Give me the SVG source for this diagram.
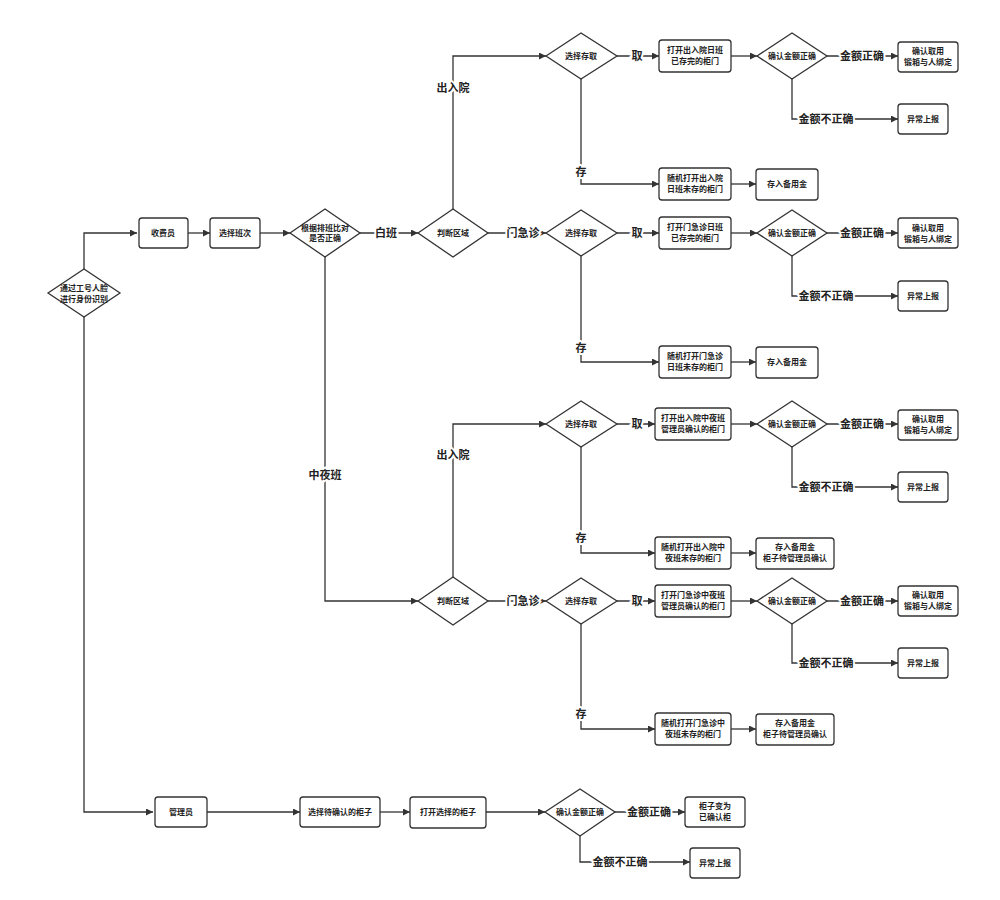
<svg xmlns="http://www.w3.org/2000/svg" width="1000" height="900" viewBox="0 0 1000 900">
<style>
.n rect{fill:#fff;stroke:#333;stroke-width:1.3}
.n polygon{fill:#fff;stroke:#333;stroke-width:1.3}
.n text{font-family:"Noto Sans CJK SC","Noto Sans",sans-serif;font-size:8px;fill:#222;text-anchor:middle;font-weight:bold}
.c path{fill:none;stroke:#333;stroke-width:1.3}
.l{font-family:"Noto Sans CJK SC","Noto Sans",sans-serif;font-size:11px;font-weight:bold;fill:#222;text-anchor:middle;stroke:#fff;stroke-width:4;paint-order:stroke}
</style>
<defs><marker id="a" viewBox="0 0 10 10" refX="10" refY="5" markerWidth="9" markerHeight="7" orient="auto" markerUnits="userSpaceOnUse"><path d="M0,0L10,5L0,10z" fill="#333"/></marker></defs>
<rect width="1000" height="900" fill="#fff"/>
<g class="c">
<path d="M84,270V233H137" marker-end="url(#a)"/>
<path d="M188,233H210" marker-end="url(#a)"/>
<path d="M260,233H290" marker-end="url(#a)"/>
<path d="M360,233H418" marker-end="url(#a)"/>
<path d="M453,209V56H546" marker-end="url(#a)"/>
<path d="M488,233H546" marker-end="url(#a)"/>
<path d="M325,257V601H418" marker-end="url(#a)"/>
<path d="M453,577V424H546" marker-end="url(#a)"/>
<path d="M488,601H546" marker-end="url(#a)"/>
<path d="M84,317V812H153" marker-end="url(#a)"/>
<path d="M207,812H300" marker-end="url(#a)"/>
<path d="M380,812H410" marker-end="url(#a)"/>
<path d="M486,812H545" marker-end="url(#a)"/>
<path d="M615,812H685" marker-end="url(#a)"/>
<path d="M580,836V862H690" marker-end="url(#a)"/>
<!-- rows -->
<path d="M617,56H659" marker-end="url(#a)"/><path d="M731,56H757" marker-end="url(#a)"/><path d="M827,56H898" marker-end="url(#a)"/><path d="M792,79V119H898" marker-end="url(#a)"/><path d="M581,79V184H659" marker-end="url(#a)"/><path d="M731,184H756" marker-end="url(#a)"/>
<path d="M617,233H659" marker-end="url(#a)"/><path d="M731,233H757" marker-end="url(#a)"/><path d="M827,233H898" marker-end="url(#a)"/><path d="M792,256V296H898" marker-end="url(#a)"/><path d="M581,256V362H659" marker-end="url(#a)"/><path d="M731,362H756" marker-end="url(#a)"/>
<path d="M617,424H655" marker-end="url(#a)"/><path d="M731,424H757" marker-end="url(#a)"/><path d="M827,424H898" marker-end="url(#a)"/><path d="M792,447V487H898" marker-end="url(#a)"/><path d="M581,447V553H655" marker-end="url(#a)"/><path d="M731,553H756" marker-end="url(#a)"/>
<path d="M617,601H655" marker-end="url(#a)"/><path d="M731,601H757" marker-end="url(#a)"/><path d="M827,601H898" marker-end="url(#a)"/><path d="M792,624V663H898" marker-end="url(#a)"/><path d="M581,624V729H655" marker-end="url(#a)"/><path d="M731,729H756" marker-end="url(#a)"/>
</g>
<g>
<text class="l" x="386" y="237">白班</text>
<text class="l" x="453" y="92">出入院</text>
<text class="l" x="523" y="237">门急诊</text>
<text class="l" x="325" y="479">中夜班</text>
<text class="l" x="453" y="459">出入院</text>
<text class="l" x="523" y="605">门急诊</text>
<text class="l" x="649" y="816">金额正确</text>
<text class="l" x="620" y="866">金额不正确</text>
<text class="l" x="637" y="60">取</text><text class="l" x="862" y="60">金额正确</text><text class="l" x="826" y="123">金额不正确</text><text class="l" x="581" y="176">存</text>
<text class="l" x="637" y="237">取</text><text class="l" x="862" y="237">金额正确</text><text class="l" x="826" y="300">金额不正确</text><text class="l" x="581" y="352">存</text>
<text class="l" x="637" y="428">取</text><text class="l" x="862" y="428">金额正确</text><text class="l" x="826" y="491">金额不正确</text><text class="l" x="581" y="542">存</text>
<text class="l" x="637" y="605">取</text><text class="l" x="862" y="605">金额正确</text><text class="l" x="826" y="667">金额不正确</text><text class="l" x="581" y="718">存</text>
</g>
<g id="start" class="n"><polygon points="48,293 84,269 120,293 84,317"/><text x="84" y="291">通过工号人脸</text><text x="84" y="302">进行身份识别</text></g>
<g id="cashier" class="n"><rect x="139" y="218" width="49" height="30" rx="3"/><text x="163" y="236">收费员</text></g>
<g id="shift" class="n"><rect x="210" y="218" width="50" height="30" rx="3"/><text x="235" y="236">选择班次</text></g>
<g id="check" class="n"><polygon points="290,233 325,209 360,233 325,257"/><text x="325" y="231">根据排班比对</text><text x="325" y="241">是否正确</text></g>
<g id="area1" class="n"><polygon points="418,233 453,209 488,233 453,257"/><text x="453" y="236">判断区域</text></g>
<g id="area2" class="n"><polygon points="418,601 453,577 488,601 453,625"/><text x="453" y="604">判断区域</text></g>

<g id="r1s" class="n"><polygon points="546,56 581,33 617,56 581,79"/><text x="581" y="59">选择存取</text></g>
<g id="r1a" class="n"><rect x="659" y="40" width="72" height="32" rx="3"/><text x="695" y="53">打开出入院日班</text><text x="695" y="64">已存完的柜门</text></g>
<g id="r1c" class="n"><polygon points="757,56 792,33 827,56 792,79"/><text x="792" y="59">确认金额正确</text></g>
<g id="r1ok" class="n"><rect x="898" y="42" width="60" height="30" rx="3"/><text x="928" y="54">确认取用</text><text x="928" y="65">锻箱与人绑定</text></g>
<g id="r1err" class="n"><rect x="898" y="104" width="50" height="30" rx="3"/><text x="923" y="122">异常上报</text></g>
<g id="r1b" class="n"><rect x="659" y="168" width="72" height="32" rx="3"/><text x="695" y="181">随机打开出入院</text><text x="695" y="192">日班未存的柜门</text></g>
<g id="r1d" class="n"><rect x="756" y="169" width="62" height="31" rx="3"/><text x="787" y="187">存入备用金</text></g>

<g id="r2s" class="n"><polygon points="546,233 581,210 617,233 581,256"/><text x="581" y="236">选择存取</text></g>
<g id="r2a" class="n"><rect x="659" y="217" width="72" height="32" rx="3"/><text x="695" y="230">打开门急诊日班</text><text x="695" y="241">已存完的柜门</text></g>
<g id="r2c" class="n"><polygon points="757,233 792,210 827,233 792,256"/><text x="792" y="236">确认金额正确</text></g>
<g id="r2ok" class="n"><rect x="898" y="218" width="60" height="30" rx="3"/><text x="928" y="231">确认取用</text><text x="928" y="242">锻箱与人绑定</text></g>
<g id="r2err" class="n"><rect x="898" y="281" width="50" height="30" rx="3"/><text x="923" y="299">异常上报</text></g>
<g id="r2b" class="n"><rect x="659" y="346" width="72" height="32" rx="3"/><text x="695" y="359">随机打开门急诊</text><text x="695" y="370">日班未存的柜门</text></g>
<g id="r2d" class="n"><rect x="756" y="347" width="62" height="31" rx="3"/><text x="787" y="365">存入备用金</text></g>

<g id="r3s" class="n"><polygon points="546,424 581,401 617,424 581,447"/><text x="581" y="427">选择存取</text></g>
<g id="r3a" class="n"><rect x="655" y="408" width="76" height="32" rx="3"/><text x="693" y="421">打开出入院中夜班</text><text x="693" y="432">管理员确认的柜门</text></g>
<g id="r3c" class="n"><polygon points="757,424 792,401 827,424 792,447"/><text x="792" y="427">确认金额正确</text></g>
<g id="r3ok" class="n"><rect x="898" y="410" width="60" height="30" rx="3"/><text x="928" y="422">确认取用</text><text x="928" y="433">锻箱与人绑定</text></g>
<g id="r3err" class="n"><rect x="898" y="472" width="50" height="30" rx="3"/><text x="923" y="490">异常上报</text></g>
<g id="r3b" class="n"><rect x="655" y="537" width="76" height="32" rx="3"/><text x="693" y="550">随机打开出入院中</text><text x="693" y="561">夜班未存的柜门</text></g>
<g id="r3d" class="n"><rect x="756" y="538" width="78" height="31" rx="3"/><text x="795" y="550">存入备用金</text><text x="795" y="561">柜子待管理员确认</text></g>

<g id="r4s" class="n"><polygon points="546,601 581,578 617,601 581,624"/><text x="581" y="604">选择存取</text></g>
<g id="r4a" class="n"><rect x="655" y="585" width="76" height="32" rx="3"/><text x="693" y="598">打开门急诊中夜班</text><text x="693" y="609">管理员确认的柜门</text></g>
<g id="r4c" class="n"><polygon points="757,601 792,578 827,601 792,624"/><text x="792" y="604">确认金额正确</text></g>
<g id="r4ok" class="n"><rect x="898" y="586" width="60" height="30" rx="3"/><text x="928" y="598">确认取用</text><text x="928" y="609">锻箱与人绑定</text></g>
<g id="r4err" class="n"><rect x="898" y="648" width="50" height="30" rx="3"/><text x="923" y="666">异常上报</text></g>
<g id="r4b" class="n"><rect x="655" y="713" width="76" height="32" rx="3"/><text x="693" y="726">随机打开门急诊中</text><text x="693" y="737">夜班未存的柜门</text></g>
<g id="r4d" class="n"><rect x="756" y="714" width="78" height="31" rx="3"/><text x="795" y="726">存入备用金</text><text x="795" y="737">柜子待管理员确认</text></g>

<g id="admin" class="n"><rect x="155" y="797" width="52" height="30" rx="3"/><text x="181" y="815">管理员</text></g>
<g id="pick" class="n"><rect x="300" y="797" width="80" height="30" rx="3"/><text x="340" y="815">选择待确认的柜子</text></g>
<g id="open" class="n"><rect x="410" y="797" width="76" height="31" rx="3"/><text x="448" y="815">打开选择的柜子</text></g>
<g id="acheck" class="n"><polygon points="545,812 580,789 615,812 580,836"/><text x="580" y="815">确认金额正确</text></g>
<g id="aok" class="n"><rect x="685" y="797" width="60" height="30" rx="3"/><text x="715" y="809">柜子变为</text><text x="715" y="820">已确认柜</text></g>
<g id="aerr" class="n"><rect x="690" y="848" width="50" height="30" rx="3"/><text x="715" y="866">异常上报</text></g>
</svg>
